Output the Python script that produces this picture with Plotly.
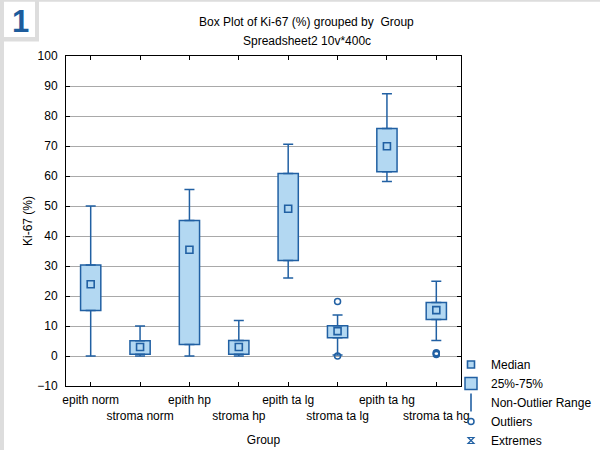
import plotly.graph_objects as go

# ---- data ----
categories = ["epith norm", "stroma norm", "epith hp", "stroma hp",
              "epith ta lg", "stroma ta lg", "epith ta hg", "stroma ta hg"]
medians = [23.9, 3.0, 35.4, 3.0, 49.1, 8.3, 69.9, 15.3]
q1 = [15.2, 0.6, 3.8, 0.6, 31.8, 6.1, 61.4, 12.2]
q3 = [30.3, 5.1, 45.2, 5.2, 60.8, 10.1, 75.8, 17.8]
lower_whisker = [0.0, 0.0, 0.0, 0.0, 26.0, 0.3, 58.2, 5.2]
upper_whisker = [50.0, 10.0, 55.5, 11.8, 70.6, 13.7, 87.4, 24.9]
outlier_groups = ["stroma ta lg", "stroma ta lg", "stroma ta hg", "stroma ta hg", "stroma ta hg"]
outlier_values = [18.2, 0.0, 0.5, 0.8, 1.1]
y_tick_values = list(range(-10, 101, 10))
title_line1 = "Box Plot of Ki-67 (%) grouped by  Group"
title_line2 = "Spreadsheet2 10v*400c"

# ---- styling ----
FONT = "Liberation Sans, Arial, sans-serif"
DARK = "#2160a3"
LIGHT = "#b3d8f2"
GRID = "#a9a9a9"
FRAME = "#dddddd"

W, H = 600, 450
L, R, T, B = 66, 139, 56, 64
PW, PH = W - L - R, H - T - B


def fx(px):
    return (px - L) / PW


def fy(py):
    return (H - B - py) / PH


box_height = [b - a for a, b in zip(q1, q3)]
up_len = [u - b for u, b in zip(upper_whisker, q3)]
low_len = [a - l for a, l in zip(q1, lower_whisker)]
zeros = [0] * len(categories)

fig = go.Figure()

# box bodies (25%-75%)
fig.add_trace(go.Bar(
    x=categories, y=box_height, base=q1, width=0.41,
    marker=dict(color=LIGHT, line=dict(color=DARK, width=1.5)),
    name="25%-75%", legendrank=2, showlegend=True, hoverinfo="skip"))

# upper whiskers
fig.add_trace(go.Scatter(
    x=categories, y=q3, mode="markers", marker=dict(size=1, opacity=0),
    error_y=dict(type="data", symmetric=False, array=up_len, arrayminus=zeros,
                 color=DARK, thickness=1.5, width=5),
    showlegend=False, hoverinfo="skip"))
# lower whiskers
fig.add_trace(go.Scatter(
    x=categories, y=q1, mode="markers", marker=dict(size=1, opacity=0),
    error_y=dict(type="data", symmetric=False, array=zeros, arrayminus=low_len,
                 color=DARK, thickness=1.5, width=5),
    showlegend=False, hoverinfo="skip"))

# medians
fig.add_trace(go.Scatter(
    x=categories, y=medians, mode="markers",
    marker=dict(symbol="square", size=7, color=LIGHT, line=dict(color=DARK, width=1.6)),
    name="Median", legendrank=1, showlegend=True))

# non-outlier range legend entry
fig.add_trace(go.Scatter(
    x=[None], y=[None], mode="markers",
    marker=dict(symbol="line-ns", size=13, color=DARK, line=dict(color=DARK, width=1.6)),
    name="Non-Outlier Range", legendrank=3, showlegend=True))

# outliers
fig.add_trace(go.Scatter(
    x=outlier_groups, y=outlier_values, mode="markers",
    marker=dict(symbol="circle-open", size=6, color=DARK, line=dict(color=DARK, width=1.5)),
    name="Outliers", legendrank=4, showlegend=True))

# extremes (none in data)
fig.add_trace(go.Scatter(
    x=[None], y=[None], mode="markers",
    marker=dict(symbol="hourglass-open", size=6, color=DARK, line=dict(color=DARK, width=1.2)),
    name="Extremes", legendrank=5, showlegend=True))

ticktext = [c if i % 2 == 0 else "<br>" + c for i, c in enumerate(categories)]

fig.update_layout(
    width=W, height=H,
    margin=dict(l=L, r=R, t=T, b=B, autoexpand=False),
    paper_bgcolor="white", plot_bgcolor="white",
    font=dict(family=FONT, size=12, color="black"),
    barmode="overlay",
    showlegend=True,
    legend=dict(x=fx(451), y=fy(350), xanchor="left", yanchor="top",
                traceorder="normal", bgcolor="rgba(0,0,0,0)",
                font=dict(family=FONT, size=12, color="black"),
                itemwidth=30, tracegroupgap=0),
    xaxis=dict(
        type="category", categoryorder="array", categoryarray=categories,
        range=[-0.5, len(categories) - 0.5],
        tickmode="array", tickvals=categories, ticktext=ticktext, tickangle=0,
        ticks="inside", ticklen=4, tickcolor="black", tickwidth=1,
        showline=True, linecolor="black", linewidth=1, mirror="ticks",
        showgrid=False, zeroline=False, ticklabelstandoff=3,
        tickfont=dict(family=FONT, size=12, color="black"),
        title=dict(text="Group", font=dict(family=FONT, size=12, color="black"), standoff=13),
    ),
    yaxis=dict(
        range=[-10, 100], tickmode="array", tickvals=y_tick_values,
        ticks="inside", ticklen=4, tickcolor="black", tickwidth=1,
        showline=True, linecolor="black", linewidth=1, mirror="ticks",
        showgrid=True, gridcolor=GRID, gridwidth=1, zeroline=False,
        ticklabelstandoff=5,
        tickfont=dict(family=FONT, size=12, color="black"),
        title=dict(text="Ki-67 (%)", font=dict(family=FONT, size=12, color="black"), standoff=2),
    ),
)

# title lines
fig.add_annotation(text=title_line1, xref="paper", yref="paper", x=fx(306.5), y=fy(22),
                   showarrow=False, xanchor="center", yanchor="middle",
                   font=dict(family=FONT, size=12, color="black"))
fig.add_annotation(text=title_line2, xref="paper", yref="paper", x=fx(306.5), y=fy(41),
                   showarrow=False, xanchor="center", yanchor="middle",
                   font=dict(family=FONT, size=12, color="black"))

# page frame: left strip, top strip, and the numbered tab
fig.add_shape(type="rect", xref="paper", yref="paper", x0=fx(0), x1=fx(4), y0=fy(H), y1=fy(0),
              fillcolor=FRAME, line=dict(width=0), layer="below")
fig.add_shape(type="rect", xref="paper", yref="paper", x0=fx(0), x1=fx(W), y0=fy(1.7), y1=fy(0),
              fillcolor=FRAME, line=dict(width=0), layer="below")
fig.add_shape(type="rect", xref="paper", yref="paper", x0=fx(0), x1=fx(39), y0=fy(41.5), y1=fy(0),
              fillcolor=FRAME, line=dict(width=0), layer="below")
fig.add_shape(type="rect", xref="paper", yref="paper", x0=fx(4), x1=fx(35), y0=fy(37), y1=fy(1.7),
              fillcolor="white", line=dict(width=0), layer="below")
fig.add_annotation(text="<b>1</b>", xref="paper", yref="paper", x=fx(20), y=fy(21),
                   showarrow=False, xanchor="center", yanchor="middle",
                   font=dict(family=FONT, size=31, color="#1d5c9c"))

fig.write_html("out.html", config={"displayModeBar": False},
               post_script="document.body.style.margin='0';")
